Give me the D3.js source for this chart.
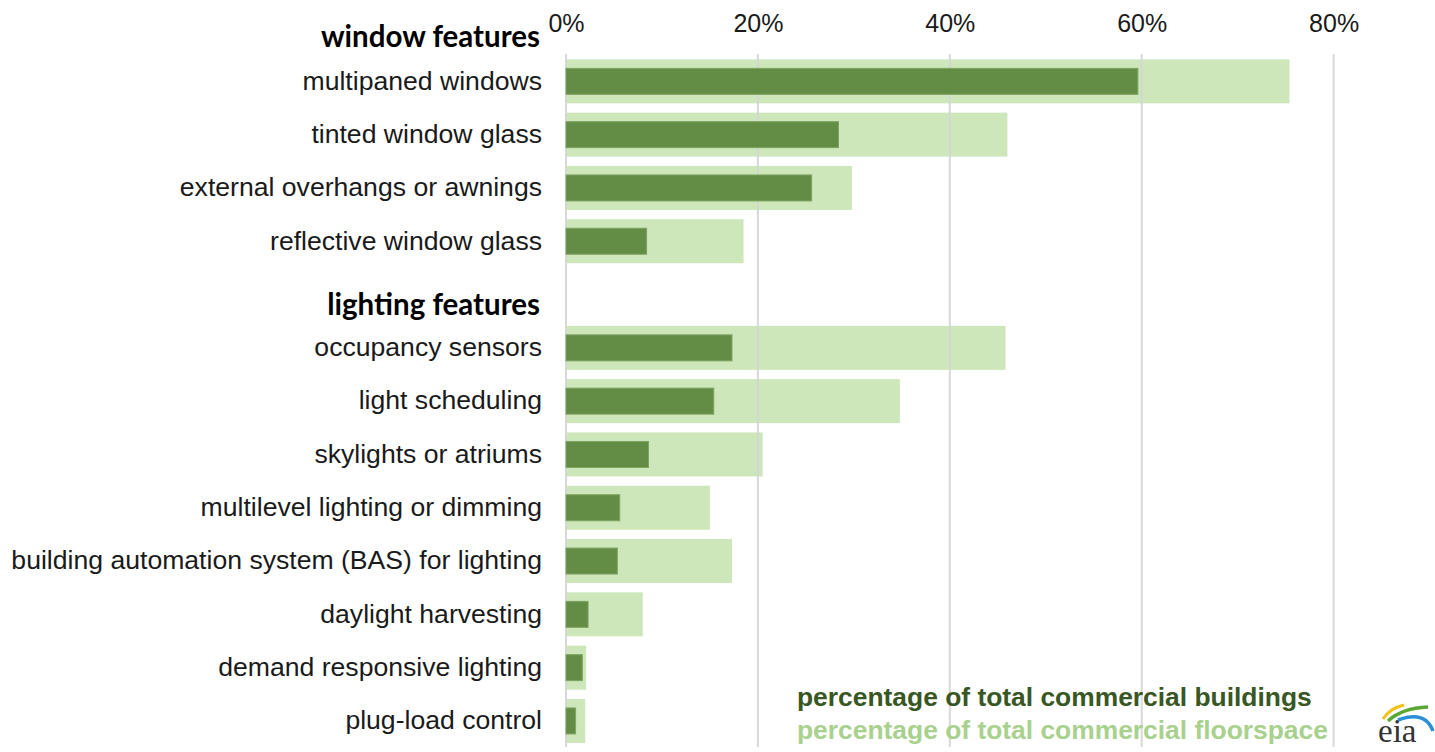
<!DOCTYPE html>
<html>
<head>
<meta charset="utf-8">
<script src="https://cdn.jsdelivr.net/npm/d3@7"></script>
<style>
  html, body { margin: 0; padding: 0; background: #ffffff; }
  svg { display: block; }
</style>
</head>
<body>
<svg id="chart" width="1435" height="752"></svg>
<script>
// ---- data ----
const categories = [
  "window features",
  "multipaned windows",
  "tinted window glass",
  "external overhangs or awnings",
  "reflective window glass",
  "lighting features",
  "occupancy sensors",
  "light scheduling",
  "skylights or atriums",
  "multilevel lighting or dimming",
  "building automation system (BAS) for lighting",
  "daylight harvesting",
  "demand responsive lighting",
  "plug-load control"
];
const groupHeaders = ["window features", "lighting features"];
// percentage of total commercial buildings
const buildingsPct = [null, 59.6, 28.4, 25.6, 8.4, null, 17.3, 15.4, 8.6, 5.6, 5.35, 2.3, 1.7, 1.0];
// percentage of total commercial floorspace
const floorspacePct = [null, 75.4, 46.0, 29.8, 18.5, null, 45.8, 34.8, 20.5, 15.0, 17.3, 8.0, 2.1, 2.0];
const tickValues = [0, 20, 40, 60, 80];
const legendLabels = ["percentage of total commercial buildings", "percentage of total commercial floorspace"];

// ---- layout ----
const svg = d3.select("#chart");
const x = d3.scaleLinear().domain([0, 80]).range([566, 1333.6]);
const y = d3.scaleBand().domain(categories).range([1.4, 747.6]).paddingInner(0).paddingOuter(0);
const slot = y.bandwidth();
const lightH = 44, darkH = 26;

const rows = categories.map((c, i) => ({ c, b: buildingsPct[i], f: floorspacePct[i], header: groupHeaders.includes(c) }));
const dataRows = rows.filter(r => !r.header);

// light bars (floorspace)
svg.append("g").selectAll("rect").data(dataRows).join("rect")
  .attr("x", x(0))
  .attr("y", d => y(d.c) + slot / 2 - lightH / 2)
  .attr("width", d => x(d.f) - x(0))
  .attr("height", lightH)
  .attr("fill", "#cde7bb");

// gridlines
svg.append("g").selectAll("line").data(tickValues).join("line")
  .attr("x1", d => x(d)).attr("x2", d => x(d))
  .attr("y1", 54).attr("y2", 747)
  .attr("stroke", "#d4d4d4")
  .attr("stroke-opacity", 0.9)
  .attr("stroke-width", 2);

// dark bars (buildings)
svg.append("g").selectAll("rect").data(dataRows).join("rect")
  .attr("x", x(0))
  .attr("y", d => y(d.c) + slot / 2 - darkH / 2)
  .attr("width", d => x(d.b) - x(0))
  .attr("height", darkH)
  .attr("fill", "#638d45")
  .attr("stroke", "#7ea462")
  .attr("stroke-width", 1);

// top axis
const axis = d3.axisTop(x).tickValues(tickValues).tickFormat(d => d + "%").tickSize(0).tickPadding(0);
const gAxis = svg.append("g").attr("transform", "translate(0,32)").call(axis);
gAxis.select(".domain").remove();
gAxis.selectAll("text")
  .attr("font-family", "'Liberation Sans', Arial, sans-serif")
  .attr("font-size", 25)
  .attr("fill", "#1a1a1a");

// category labels
svg.append("g").selectAll("text").data(dataRows).join("text")
  .attr("x", 542)
  .attr("y", d => y(d.c) + slot / 2 - 1)
  .attr("dy", "0.35em")
  .attr("text-anchor", "end")
  .attr("font-family", "'Liberation Sans', Arial, sans-serif")
  .attr("font-size", 26.6)
  .attr("fill", "#1a1a1a")
  .text(d => d.c);

// group headers
svg.append("g").selectAll("text").data(rows.filter(r => r.header)).join("text")
  .attr("x", 540)
  .attr("y", (d, i) => y(d.c) + slot / 2 + 9 + i * 1.5)
  .attr("dy", "0.35em")
  .attr("text-anchor", "end")
  .attr("font-family", "Lato, 'Open Sans', sans-serif")
  .attr("font-weight", "bold")
  .attr("font-size", 29.5)
  .attr("fill", "#000000")
  .text(d => d.c);

// legend
const legendColors = ["#385723", "#a9d18e"];
svg.append("g").selectAll("text").data(legendLabels).join("text")
  .attr("x", 797)
  .attr("y", (d, i) => 706 + i * 33)
  .attr("font-family", "'Liberation Sans', Arial, sans-serif")
  .attr("font-weight", "bold")
  .attr("font-size", 26.4)
  .attr("fill", (d, i) => legendColors[i])
  .text(d => d);

// eia logo
const logo = svg.append("g");
logo.append("path").attr("d", "M1383,719 Q1390,708 1404,705").attr("fill", "none").attr("stroke", "#f2c21b").attr("stroke-width", 3);
logo.append("path").attr("d", "M1388,721 Q1402,708 1428,707").attr("fill", "none").attr("stroke", "#5aa832").attr("stroke-width", 3.5);
logo.append("path").attr("d", "M1398,720 Q1425,710 1433,731").attr("fill", "none").attr("stroke", "#2b8fd6").attr("stroke-width", 3.5);
logo.append("text")
  .attr("x", 1378).attr("y", 742)
  .attr("font-family", "'Liberation Serif', 'DejaVu Serif', serif")
  .attr("font-size", 33)
  .attr("fill", "#333333")
  .text("eia");
</script>
</body>
</html>
